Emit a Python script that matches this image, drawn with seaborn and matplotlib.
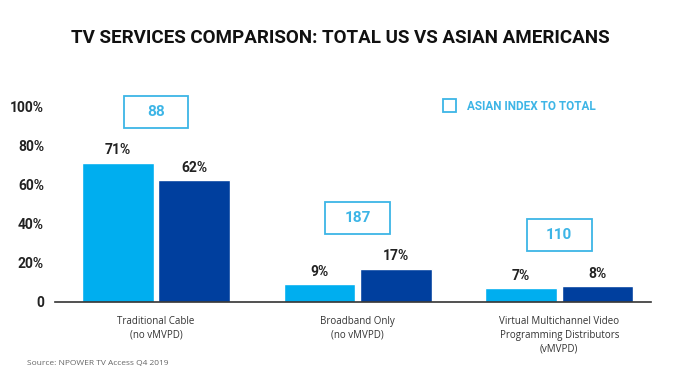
import pandas as pd
import matplotlib.pyplot as plt
import seaborn as sns
from matplotlib.patches import Rectangle

# Chart data
categories = ['Traditional Cable\n(no vMVPD)', 'Broadband Only\n(no vMVPD)',
              'Virtual Multichannel Video\nProgramming Distributors\n(vMVPD)']
total_us = [71, 9, 7]
asian_am = [62, 17, 8]
index_vals = [88, 187, 110]
index_y = [97, 43, 34]          # box centres in percent-axis units
yticks = [0, 20, 40, 60, 80, 100]
ytick_labels = ['0', '20%', '40%', '60%', '80%', '100%']

LIGHT = '#00AEEF'
DARK = '#003F9E'
BOX = '#3DB5E6'
HEAD = 'Roboto'
BODY = 'Open Sans'

df = pd.DataFrame({
    'cat': categories * 2,
    'group': ['Total US'] * 3 + ['Asian Americans'] * 3,
    'val': total_us + asian_am,
})

sns.set_style('white')
fig = plt.figure(figsize=(6.81, 3.85), dpi=100)
ax = fig.add_axes([0.081, 0.2156, 0.875, 0.509])

sns.barplot(data=df, x='cat', y='val', hue='group', palette=[LIGHT, DARK],
            width=0.757, gap=0.06, saturation=1, legend=False, ax=ax)

for cont in ax.containers:
    ax.bar_label(cont, labels=[f'{v:.0f}%' for v in cont.datavalues], padding=4,
                 fontsize=10, fontweight='bold', color='#222222', family=HEAD)

# index boxes
bw, bh = 0.32, 16.3
for i, (v, yy) in enumerate(zip(index_vals, index_y)):
    ax.add_patch(Rectangle((i - bw / 2, yy - bh / 2), bw, bh, fc='white', ec=BOX,
                           lw=1.3, clip_on=False, zorder=3))
    ax.text(i, yy, str(v), ha='center', va='center', fontsize=11, fontweight='bold',
            color=BOX, family=HEAD, clip_on=False, zorder=4)

ax.set_xlim(-0.5, 2.455)
ax.set_ylim(0, 100)
ax.set_yticks(yticks)
ax.set_yticklabels(ytick_labels, fontsize=10, fontweight='bold', color='#222222',
                   family=HEAD)
ax.tick_params(axis='y', length=0, pad=8)
ax.tick_params(axis='x', length=0, pad=10)
for lab in ax.get_xticklabels():
    lab.set_fontsize(7)
    lab.set_family(BODY)
    lab.set_color('#333333')
    lab.set_linespacing(1.35)
ax.set_xlabel('')
ax.set_ylabel('')
sns.despine(ax=ax, left=True)
ax.spines['bottom'].set_color('#333333')
ax.spines['bottom'].set_linewidth(1.2)

# legend-like marker
fig.add_artist(Rectangle((443 / 681, 1 - 112 / 385), 13 / 681, 13 / 385,
                         fc='none', ec=BOX, lw=1.3, transform=fig.transFigure))
fig.text(467 / 681, 1 - 106 / 385, 'ASIAN INDEX TO TOTAL', fontsize=8.5,
         fontweight='bold', color=BOX, va='center', ha='left', family=HEAD)

fig.text(0.5, 1 - 38 / 385, 'TV SERVICES COMPARISON: TOTAL US VS ASIAN AMERICANS',
         ha='center', va='center', fontsize=13.5, fontweight='bold', color='#111111',
         family=HEAD)
fig.text(27 / 681, 1 - 364 / 385, 'Source: NPOWER TV Access Q4 2019', fontsize=6,
         color='#666666', va='center', family=BODY)

fig.savefig('out.png', dpi=100)
